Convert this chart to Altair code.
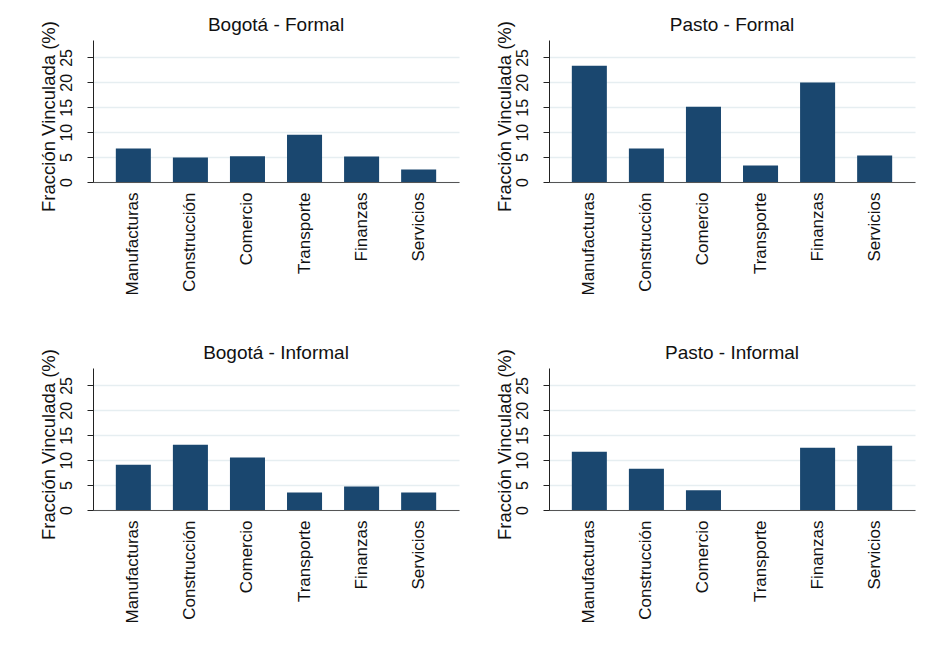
import altair as alt
import pandas as pd

sectors = ["Manufacturas", "Construcción", "Comercio", "Transporte", "Finanzas", "Servicios"]
bogota_formal = [6.7, 4.9, 5.15, 9.5, 5.1, 2.5]
pasto_formal = [23.35, 6.7, 15.1, 3.3, 19.95, 5.3]
bogota_informal = [9.1, 13.1, 10.55, 3.5, 4.7, 3.5]
pasto_informal = [11.7, 8.3, 3.95, 0.0, 12.5, 12.9]
titles = ["Bogotá - Formal", "Pasto - Formal", "Bogotá - Informal", "Pasto - Informal"]
y_ticks = [0, 5, 10, 15, 20, 25]

FONT = "Liberation Sans"


def panel(title, values):
    df = pd.DataFrame({"sector": sectors, "valor": values})
    return alt.Chart(df).mark_bar(color="#1a476f").encode(
        x=alt.X(
            "sector:N", sort=sectors, title=None,
            scale=alt.Scale(paddingInner=0.386, paddingOuter=0.4),
            axis=alt.Axis(labelAngle=-90, ticks=False, tickSize=0, labelPadding=10,
                          labelAlign="right", labelBaseline="middle",
                          labelFontSize=17, domainColor="#555555", grid=False),
        ),
        y=alt.Y(
            "valor:Q", title="Fracción Vinculada (%)",
            scale=alt.Scale(domain=[0, 28.5], nice=False, zero=True),
            axis=alt.Axis(values=y_ticks, labelAngle=-90, labelAlign="center",
                          labelBaseline="bottom", labelPadding=13, tickSize=6,
                          labelFontSize=16, titleFontSize=18.5, titlePadding=0,
                          titleY=76,
                          grid=True, gridColor="#e6eef1", gridWidth=1.5,
                          domainColor="#222222", tickColor="#222222"),
        ),
    ).properties(
        width=366, height=142,
        title=alt.TitleParams(title, fontSize=19, font=FONT, fontWeight="normal",
                              frame="group", anchor="middle", offset=-14, color="#111111"),
    )


p1 = panel(titles[0], bogota_formal)
p2 = panel(titles[1], pasto_formal)
p3 = panel(titles[2], bogota_informal)
p4 = panel(titles[3], pasto_informal)

chart = alt.vconcat(
    alt.hconcat(p1, p2, spacing=35),
    alt.hconcat(p3, p4, spacing=35),
    spacing=48,
).properties(
    padding={"left": 30, "top": 7, "right": 5, "bottom": 5},
    background="white",
).configure_view(
    stroke=None
).configure_axis(
    labelFont=FONT, titleFont=FONT, labelColor="#111111", titleColor="#111111",
    titleFontWeight="normal", domainWidth=1, tickWidth=1,
)

chart.save("out.html", embed_options={"renderer": "svg", "actions": False})
